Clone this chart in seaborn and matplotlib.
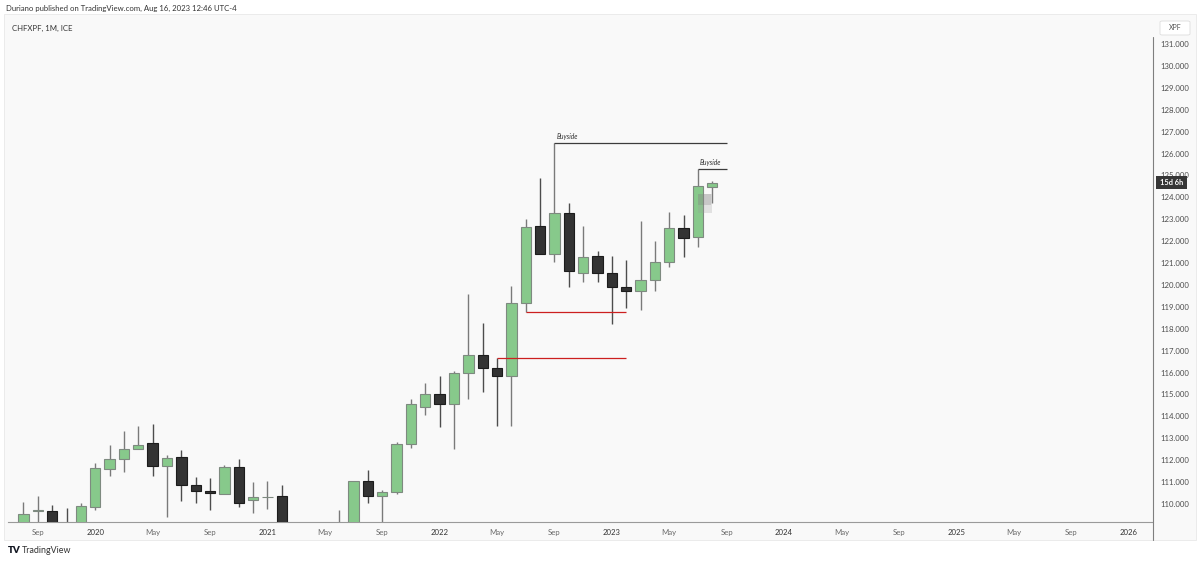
import matplotlib.pyplot as plt
import numpy as np
import pandas as pd
import seaborn as sns
from matplotlib.lines import Line2D
from matplotlib.patches import FancyBboxPatch, Rectangle

W, H = 1200, 563

# ---- data (monthly CHFXPF candles) ------------------------------------------
months = pd.period_range("2019-08", "2023-08", freq="M").strftime("%Y-%m").tolist()
opens = [108.90, 109.69, 109.70, 108.95, 108.90, 109.86, 111.60, 112.05, 112.52, 112.80,
         111.75, 112.13, 110.88, 110.59, 110.46, 111.70, 110.17, 110.31, 110.35, 108.60,
         108.00, 108.40, 108.50, 108.90, 111.04, 110.37, 110.55, 112.73, 114.41, 115.04,
         114.58, 116.00, 116.80, 116.22, 115.84, 119.18, 122.69, 121.41, 123.30, 120.56,
         121.32, 120.55, 119.89, 119.72, 120.23, 121.06, 122.60, 122.18, 124.46]
highs = [110.08, 110.35, 109.94, 109.82, 110.03, 111.86, 112.68, 113.32, 113.56, 113.65,
         112.24, 112.45, 111.25, 111.17, 111.78, 112.04, 111.02, 111.05, 110.88, 109.00,
         108.90, 109.00, 109.73, 111.04, 111.55, 110.63, 112.82, 114.81, 115.51, 115.84,
         116.07, 119.59, 118.28, 116.65, 119.97, 123.00, 124.88, 126.47, 123.73, 122.68,
         121.54, 121.32, 121.14, 122.92, 122.02, 123.33, 123.18, 125.28, 124.76]
lows = [108.60, 108.90, 108.70, 108.60, 108.80, 109.71, 111.28, 111.47, 112.50, 111.28,
        109.39, 110.14, 110.03, 109.73, 110.46, 109.88, 109.60, 109.79, 108.30, 107.50,
        107.60, 107.90, 108.20, 108.70, 110.06, 109.00, 110.44, 112.57, 114.06, 113.53,
        112.50, 114.78, 115.11, 113.56, 113.56, 118.78, 121.40, 121.06, 119.92, 120.13,
        120.13, 118.22, 118.96, 118.86, 119.74, 120.83, 121.26, 121.75, 123.73]
closes = [109.53, 109.71, 108.95, 108.90, 109.90, 111.64, 112.04, 112.51, 112.71, 111.75,
          112.11, 110.88, 110.61, 110.50, 111.70, 110.06, 110.33, 110.33, 108.60, 108.00,
          108.40, 108.50, 108.90, 111.04, 110.38, 110.55, 112.74, 114.58, 115.01, 114.58,
          115.98, 116.79, 116.22, 115.86, 119.19, 122.63, 121.40, 123.30, 120.65, 121.29,
          120.55, 119.89, 119.72, 120.23, 121.06, 122.61, 122.16, 124.53, 124.65]

# drawn levels: (price, first month, last month)
buyside_levels = [126.47, 125.28]
buyside_from = ["2022-09", "2023-07"]
buyside_to = ["2023-09", "2023-09"]
red_levels = [118.78, 116.65]
red_from = ["2022-07", "2022-05"]
red_to = ["2023-02", "2023-02"]

price_ticks = list(range(110, 132))
time_ticks = list(range(-4, 73, 4))   # months from Jan 2020
month_names = {1: "2020", 5: "May", 9: "Sep"}

GREEN, GREEN_EDGE, GREEN_WICK = "#87c98b", "#7e8a80", "#7a7a7a"
DARK, DARK_EDGE, DARK_WICK = "#333333", "#1c1c1c", "#4d4d4d"
RED = "#cc2020"
PANEL = "#f9f9f9"


def midx(s):
    return (int(s[:4]) - 2020) * 12 + int(s[5:7]) - 1


def fy(y):
    return 1 - y / H


sns.set_theme(style="white")
plt.rcParams["font.family"] = ["Lato", "DejaVu Sans"]

df = pd.DataFrame({"month": months, "open": opens, "high": highs,
                   "low": lows, "close": closes})
df["m"] = df["month"].map(midx)
df["up"] = df["close"] >= df["open"]

fig = plt.figure(figsize=(W / 100, H / 100), dpi=100)
fig.patch.set_facecolor("white")
fig.add_artist(Rectangle((4 / W, fy(540)), 1192 / W, 526 / H, transform=fig.transFigure,
                         facecolor=PANEL, edgecolor="#e8e8e8", lw=0.6, zorder=0))

ax = fig.add_axes([8 / W, fy(522), 1144 / W, 484 / H])
ax.set_facecolor("none")

for up, fill, edge, wick in [(True, GREEN, GREEN_EDGE, GREEN_WICK),
                             (False, DARK, DARK_EDGE, DARK_WICK)]:
    sub = df[df["up"] == up]
    ax.vlines(sub["m"], sub["low"], sub["high"], color=wick, lw=1.0, zorder=2)
    body = (sub["close"] - sub["open"]).abs().clip(lower=0.03)
    ax.bar(sub["m"], body, bottom=sub[["open", "close"]].min(axis=1), width=0.72,
           color=fill, edgecolor=edge, lw=0.8, zorder=3)

for lvl, a, b in zip(buyside_levels, buyside_from, buyside_to):
    ax.hlines(lvl, midx(a), midx(b), color="#3c3c3c", lw=0.9, zorder=4)
    ax.text(midx(a) + 0.12, lvl + 0.13, "Buyside", fontsize=4.8, style="italic",
            color="#333333", va="bottom", ha="left")
for lvl, a, b in zip(red_levels, red_from, red_to):
    ax.hlines(lvl, midx(a), midx(b), color=RED, lw=0.9, zorder=4)

# translucent box next to the last candle
ax.add_patch(Rectangle((41.99, 123.29), 0.98, 0.86, facecolor="#9a9a9a", alpha=0.25,
                       lw=0, zorder=5))
ax.add_patch(Rectangle((41.99, 123.65), 0.9, 0.50, facecolor="#7a7a7a", alpha=0.25,
                       lw=0, zorder=5))

ax.set_xlim(-6.08, 73.64)
ax.set_ylim(109.178, 131.274)

ax.yaxis.tick_right()
ax.set_yticks(price_ticks)
ax.set_yticklabels([f"{v:.3f}" for v in price_ticks])
ax.tick_params(axis="y", length=0, pad=6, labelsize=5.6, labelcolor="#4d4d4d")

labels, colors = [], []
for t in time_ticks:
    mo = t % 12 + 1
    yr = 2020 + t // 12
    if mo == 1:
        labels.append(str(yr)); colors.append("#333333")
    else:
        labels.append(month_names[mo]); colors.append("#6a6a6a")
ax.set_xticks(time_ticks)
ax.set_xticklabels(labels)
for lab, c in zip(ax.get_xticklabels(), colors):
    lab.set_color(c)
ax.tick_params(axis="x", length=0, pad=5, labelsize=5.6)

for side in ["top", "right", "left"]:
    ax.spines[side].set_visible(False)
ax.spines["bottom"].set_color("#9a9a9a")
ax.spines["bottom"].set_linewidth(0.8)
ax.grid(False)

# price-scale separator
fig.add_artist(Line2D([1153 / W, 1153 / W], [fy(37), fy(540)], transform=fig.transFigure,
                      color="#7f7f7f", lw=0.8))

# header texts
fig.text(6 / W, fy(8), "Duriano published on TradingView.com, Aug 16, 2023 12:46 UTC-4",
         fontsize=5.6, color="#333333", va="center")
fig.text(12 / W, fy(28), "CHFXPF, 1M, ICE", fontsize=5.6, color="#333333", va="center")

# currency box
fig.add_artist(FancyBboxPatch((1160 / W, fy(35)), 30 / W, 14 / H,
                              boxstyle="round,pad=0,rounding_size=0.002",
                              transform=fig.transFigure, facecolor="white",
                              edgecolor="#dddddd", lw=0.6))
fig.text(1175 / W, fy(28), "XPF", fontsize=5, color="#555555", ha="center", va="center")

# countdown label at last price
fig.add_artist(Rectangle((1156 / W, fy(189.5)), 31 / W, 13 / H, transform=fig.transFigure,
                         facecolor="#363636", edgecolor="none", zorder=6))
fig.text(1171.5 / W, fy(183), "15d 6h", fontsize=5.3, color="white", ha="center",
         va="center", fontweight="bold", zorder=7)

# footer
fig.text(8 / W, fy(550.5), "TV", fontsize=7, color="#131722", fontweight="heavy",
         va="center")
fig.text(22 / W, fy(550.5), "TradingView", fontsize=6.4, color="#333333", va="center")

fig.savefig("out.png", dpi=100, facecolor="white")
